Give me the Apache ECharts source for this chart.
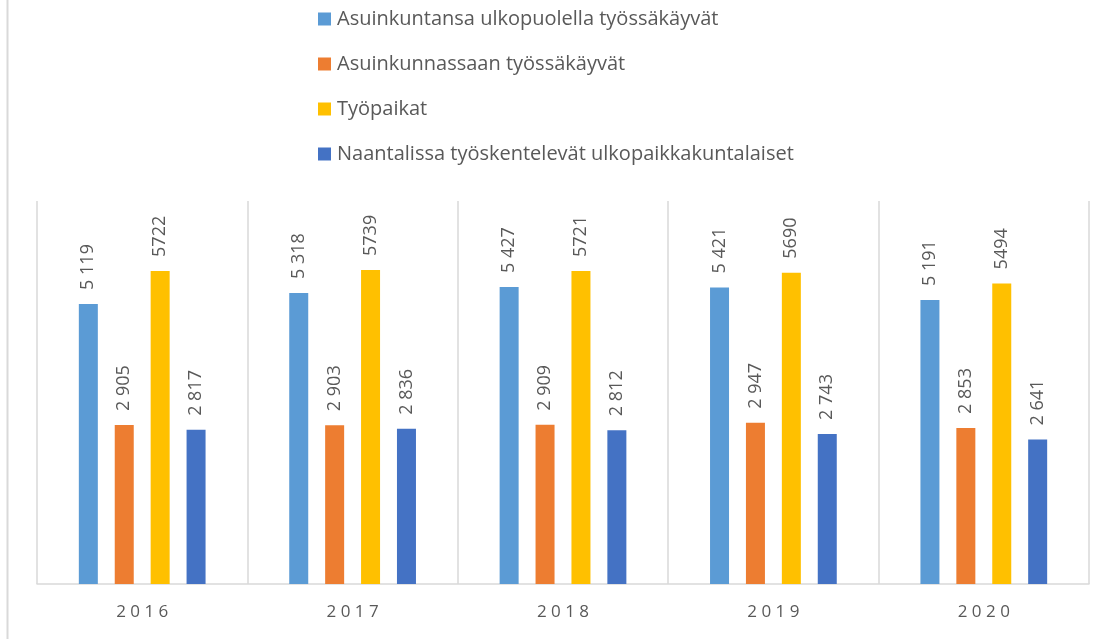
<!DOCTYPE html>
<html><head><meta charset="utf-8">
<script src="https://cdn.jsdelivr.net/npm/echarts@6/dist/echarts.min.js"></script>
<style>html,body{margin:0;padding:0;background:#fff}#c{width:1116px;height:639px}</style>
</head><body><div id="c"></div>
<script>
const years = ['2016','2017','2018','2019','2020'];
const seriesNames = ['Asuinkuntansa ulkopuolella työssäkäyvät','Asuinkunnassaan työssäkäyvät','Työpaikat','Naantalissa työskentelevät ulkopaikkakuntalaiset'];
const ulkopuolella = [5119, 5318, 5427, 5421, 5191];
const asuinkunnassaan = [2905, 2903, 2909, 2947, 2853];
const tyopaikat = [5722, 5739, 5721, 5690, 5494];
const ulkopaikkakuntalaiset = [2817, 2836, 2812, 2743, 2641];
const colors = ['#5B9BD5','#ED7D31','#FFC000','#4472C4'];
const spaced = [true, true, false, true];

const FONT = 'Open Sans';
function fmt(v, sp){ return sp ? String(v).replace(/\B(?=(\d{3})+(?!\d))/g,' ') : String(v); }
const data = [ulkopuolella, asuinkunnassaan, tyopaikat, ulkopaikkakuntalaiset];
const chart = echarts.init(document.getElementById('c'));
chart.setOption({
  animation:false,
  backgroundColor:'#fff',
  color: colors,
  graphic:[{type:'line',shape:{x1:7.5,y1:0,x2:7.5,y2:639},style:{stroke:'#d9d9d9',lineWidth:2}}],
  legend:{
    orient:'vertical', left:318, top:9, padding:0, itemWidth:13, itemHeight:13, itemGap:25,
    icon:'rect',
    textStyle:{fontFamily:FONT, fontSize:20, color:'#595959', lineHeight:20, padding:[0,0,0,1]},
    data: seriesNames
  },
  grid:{left:37, right:27, top:201, bottom:55},
  xAxis:{
    type:'category', data: years,
    axisLine:{lineStyle:{color:'#d9d9d9', width:1.5}},
    axisTick:{show:false},
    splitLine:{show:true, lineStyle:{color:'#d9d9d9', width:1.5}},
    axisLabel:{fontFamily:FONT, fontSize:17, color:'#595959', margin:20,
      formatter: v => v.split('').join(' ')}
  },
  yAxis:{type:'value', min:0, max:7000, show:false, splitLine:{show:false}},
  series: data.map((d,i)=>({
    name: seriesNames[i], type:'bar', data:d, barWidth:19, barGap:'89%',
    itemStyle:{color:colors[i]},
    label:{show:true, position:'top', rotate:90, distance:14, align:'left', verticalAlign:'middle',
      fontFamily:FONT, fontSize:18, color:'#595959',
      formatter: p => fmt(p.value, spaced[i])}
  }))
});
</script></body></html>
